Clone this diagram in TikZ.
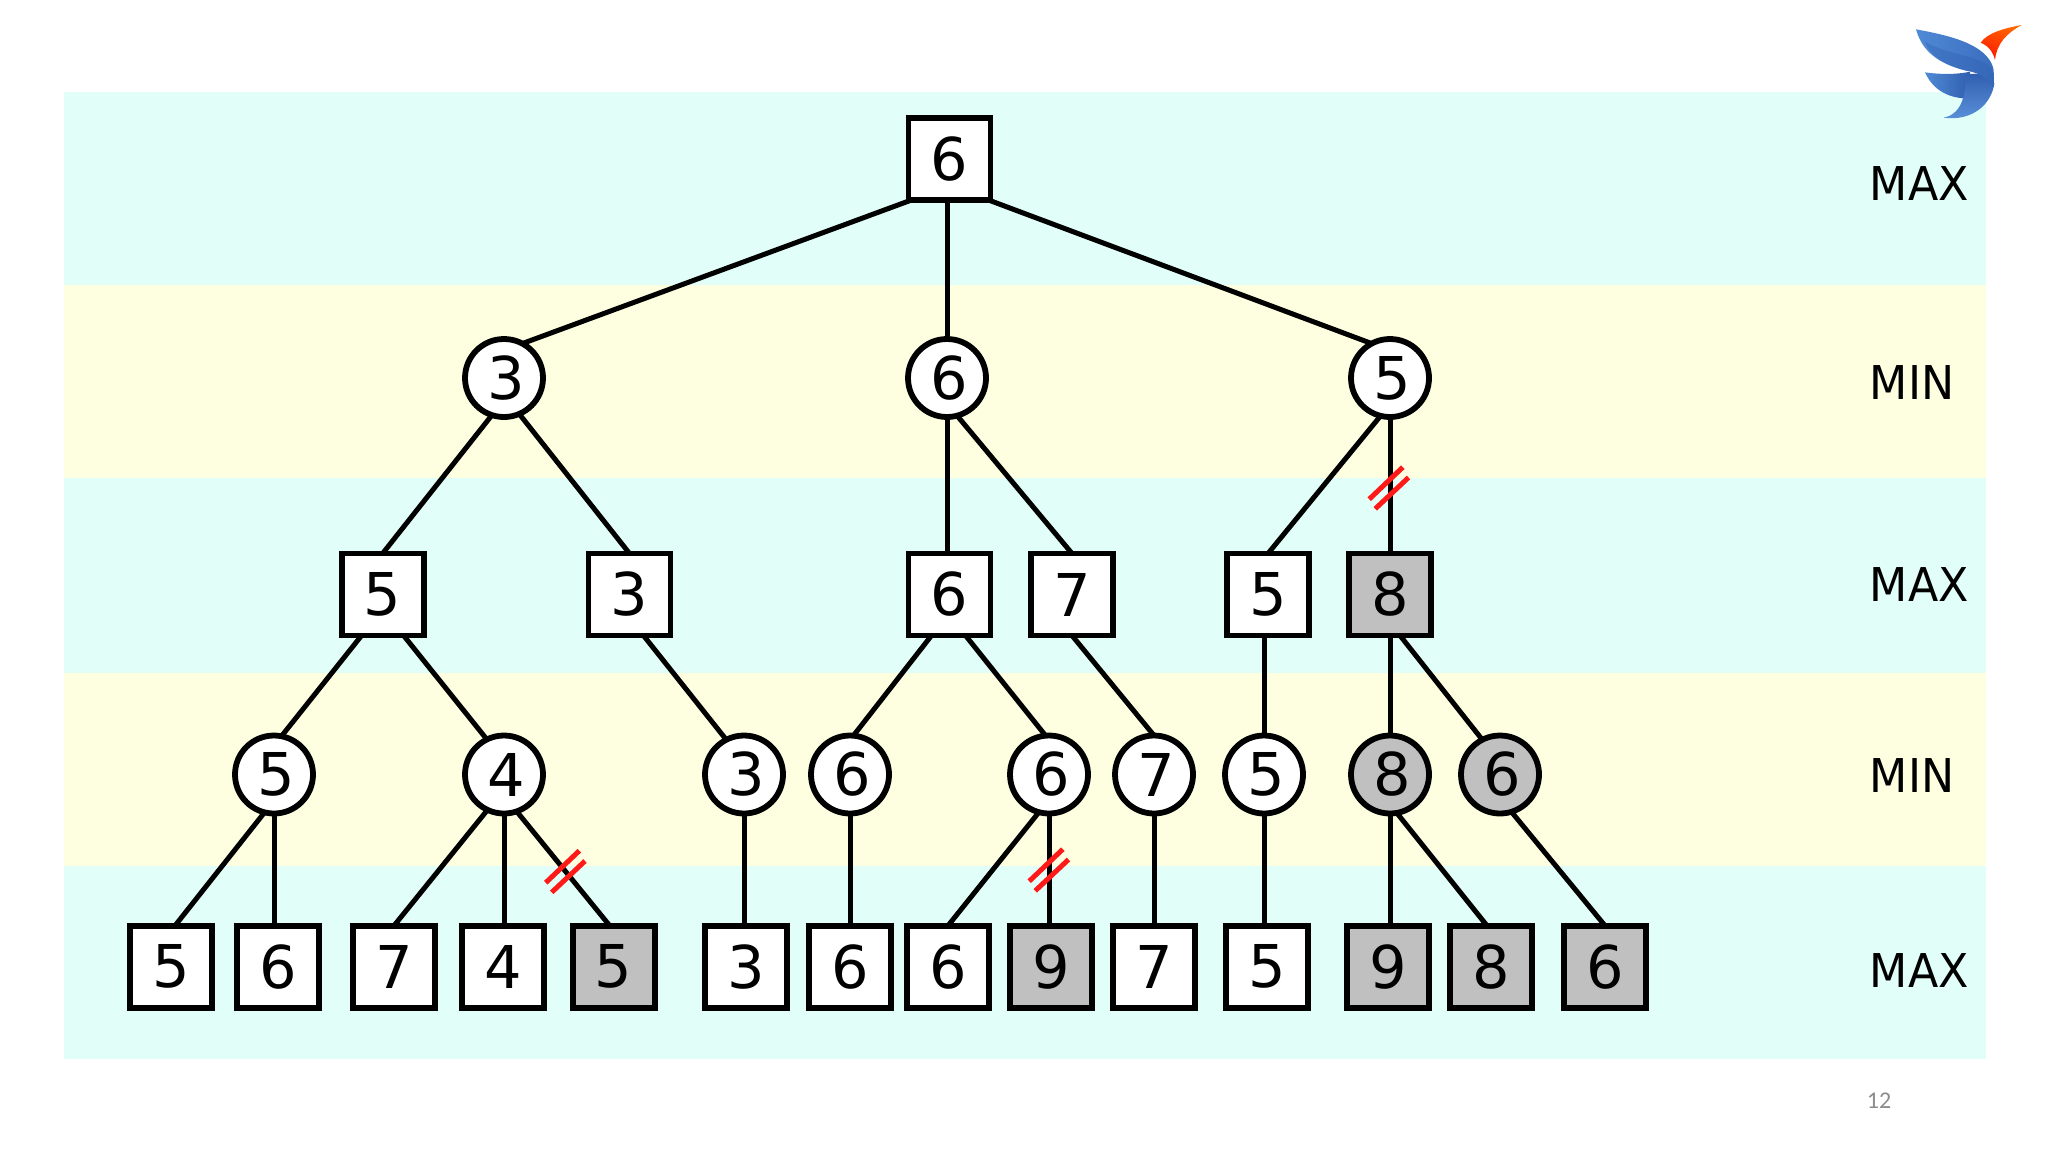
\documentclass[tikz,border=0pt]{standalone}
\usepackage{fontspec}
\setmainfont{DejaVu Sans}
\newfontfamily\lblfont[FakeStretch=0.95]{DejaVu Sans}
\newfontfamily\pgfont{Carlito}
\usetikzlibrary{calc}
\definecolor{bandc}{HTML}{E1FFF8}
\definecolor{bandy}{HTML}{FEFFE0}
\definecolor{pruned}{HTML}{C0C0C0}
\definecolor{cutred}{HTML}{FF1A1A}
\definecolor{logoA}{HTML}{4F8AD6}
\definecolor{logoB}{HTML}{3A6DBE}
\definecolor{logoC}{HTML}{2F5DAE}
\definecolor{logoD}{HTML}{5C93DC}
\tikzset{
 x=0.5pt,y=-0.5pt,
 sq/.style={draw=black,line width=2.9pt,fill=white,minimum size=41pt,inner sep=0pt,outer sep=0pt,font=\fontsize{29.5}{30}\selectfont,text=black},
 ci/.style={draw=black,line width=2.9pt,fill=white,circle,minimum size=39pt,inner sep=0pt,outer sep=0pt,font=\fontsize{29.5}{30}\selectfont,text=black,execute at begin node=\kern2pt},
 gr/.style={fill=pruned},
 edge/.style={draw=black,line width=2.5pt},
 cut/.style={draw=cutred,line width=2.5pt},
 lvl/.style={font=\lblfont\fontsize{23.3}{25}\selectfont,text=black,anchor=west,inner sep=0pt},
}
\newcommand{\cutmark}[1]{%
 \draw[cut] ($(#1)+(-19.8,11.2)$) -- ($(#1)+(13.8,-20.8)$);
 \draw[cut] ($(#1)+(-13.8,20.8)$) -- ($(#1)+(19.5,-10.5)$);}
\begin{document}
\begin{tikzpicture}
\useasboundingbox (0,0) rectangle (2048,1152);
\fill[white] (0,0) rectangle (2048,1152);
\fill[bandc] (64,91.5) rectangle (1986,285);
\fill[bandy] (64,285) rectangle (1986,478);
\fill[bandc] (64,478) rectangle (1986,672.5);
\fill[bandy] (64,672.5) rectangle (1986,866);
\fill[bandc] (64,866) rectangle (1986,1059);
% level 0
\node[sq] (r) at (949.5,159) {6};
% level 1
\node[ci] (a1) at (504,378) {3};
\node[ci] (a2) at (947,378) {6};
\node[ci] (a3) at (1390,378) {5};
% level 2
\node[sq] (b1) at (382.6,594.5) {5};
\node[sq] (b2) at (629.5,594.5) {3};
\node[sq] (b3) at (949.5,594.5) {6};
\node[sq] (b4) at (1072,594.5) {7};
\node[sq] (b5) at (1268,594.5) {5};
\node[sq,gr] (b6) at (1390,594.5) {8};
% level 3
\node[ci] (c1) at (274,774.5) {5};
\node[ci] (c2) at (504,774.5) {4};
\node[ci] (c3) at (744,774.5) {3};
\node[ci] (c4) at (850,774.5) {6};
\node[ci] (c5) at (1049,774.5) {6};
\node[ci] (c6) at (1154,774.5) {7};
\node[ci] (c7) at (1264,774.5) {5};
\node[ci,gr] (c8) at (1390,774.5) {8};
\node[ci,gr] (c9) at (1500,774.5) {6};
% level 4
\node[sq] (d1) at (171,966.7) {5};
\node[sq] (d2) at (278,966.7) {6};
\node[sq] (d3) at (394,966.7) {7};
\node[sq] (d4) at (503,966.7) {4};
\node[sq,gr] (d5) at (613.7,966.7) {5};
\node[sq] (d6) at (746,966.7) {3};
\node[sq] (d7) at (850,966.7) {6};
\node[sq] (d8) at (948,966.7) {6};
\node[sq,gr] (d9) at (1051,966.7) {9};
\node[sq] (d10) at (1154,966.7) {7};
\node[sq] (d11) at (1267,966.7) {5};
\node[sq,gr] (d12) at (1388,966.7) {9};
\node[sq,gr] (d13) at (1491,966.7) {8};
\node[sq,gr] (d14) at (1605,966.7) {6};
% edges
\draw[edge] ($(r.south)+(-38,0)$) -- (a1.62);
\draw[edge] (a2.north) -- (a2.north |- r.south);
\draw[edge] ($(r.south)+(39,0)$) -- (a3.118);
\draw[edge] (a1.-108) -- (b1.north);
\draw[edge] (a1.-67) -- (b2.north);
\draw[edge] (a2.south) -- (a2.south |- b3.north);
\draw[edge] (a2.-75) -- (b4.north);
\draw[edge] (a3.-104) -- (b5.north);
\draw[edge] (a3.south) -- (b6.north);
\draw[edge] ($(b1.south)+(-21,0)$) -- (c1.79);
\draw[edge] ($(b1.south)+(21,0)$) -- (c2.116);
\draw[edge] ($(b2.south)+(14,0)$) -- (c3.117);
\draw[edge] ($(b3.south)+(-18,0)$) -- (c4.85);
\draw[edge] ($(b3.south)+(16,0)$) -- (c5.95);
\draw[edge] (b4.south) -- (c6.north);
\draw[edge] (c7.north) -- (c7.north |- b5.south);
\draw[edge] (b6.south) -- (c8.north);
\draw[edge] ($(b6.south)+(10,0)$) -- (c9.117);
\draw[edge] (c1.-104) -- ($(d1.north)+(4,0)$);
\draw[edge] (c1.south) -- (c1.south |- d2.north);
\draw[edge] (c2.-115) -- (d3.north);
\draw[edge] (c2.south) -- (c2.south |- d4.north);
\draw[edge] (c2.-71) -- ($(d5.north)+(-4,0)$);
\draw[edge] (c3.south) -- (c3.south |- d6.north);
\draw[edge] (c4.south) -- (d7.north);
\draw[edge] (c5.-105) -- (d8.north);
\draw[edge] (c5.south) -- (c5.south |- d9.north);
\draw[edge] (c6.south) -- (d10.north);
\draw[edge] (c7.south) -- (c7.south |- d11.north);
\draw[edge] (c8.south) -- (c8.south |- d12.north);
\draw[edge] (c8.-80) -- ($(d13.north)+(-4,0)$);
\draw[edge] (c9.-73) -- (d14.north);
% pruning marks
\coordinate (m1) at (565.5,871.5);
\coordinate (m2) at (1049,870);
\coordinate (m3) at (1389,488);
\cutmark{m1}\cutmark{m2}\cutmark{m3}
% labels
\node[lvl] (l1) at (1869.5,184) {MAX};
\node[lvl] (l2) at (1869.5,383) {MIN};
\node[lvl] (l3) at (1869.5,585) {MAX};
\node[lvl] (l4) at (1869.5,775) {MIN};
\node[lvl] (l5) at (1869.5,970) {MAX};
\node[font=\pgfont\fontsize{12}{14}\selectfont,text=black!45] (pg) at (1879,1101) {12};
% logo
\begin{scope}[shift={(1880,0)},x=0.16667pt,y=-0.16667pt]
\shade[top color=orange!80!red,bottom color=red!80!orange,shading angle=-20]
 (425,75) .. controls (370,85) and (320,100) .. (302,128)
 .. controls (330,140) and (340,160) .. (345,180)
 .. controls (350,130) and (380,100) .. (425,75) -- cycle;
\shade[left color=logoA,right color=logoC]
 (135,217) .. controls (190,225) and (240,222) .. (270,215)
 -- (275,295) .. controls (230,298) and (165,285) .. (135,217) -- cycle;
\shade[top color=logoC,bottom color=logoD]
 (255,225) .. controls (300,215) and (330,225) .. (343,250)
 .. controls (335,310) and (280,365) .. (190,353)
 .. controls (240,345) and (260,290) .. (255,225) -- cycle;
\shade[left color=logoA,right color=logoB]
 (108,88) .. controls (200,105) and (320,130) .. (340,205)
 .. controls (342,225) and (343,240) .. (340,262)
 .. controls (320,225) and (280,215) .. (258,212)
 .. controls (170,190) and (125,150) .. (108,88) -- cycle;
\fill[logoC,opacity=0.35]
 (135,125) .. controls (200,165) and (300,165) .. (335,205)
 .. controls (342,225) and (343,240) .. (340,262)
 .. controls (320,225) and (280,215) .. (258,212)
 .. controls (190,195) and (150,165) .. (135,125) -- cycle;
\end{scope}
\end{tikzpicture}
\end{document}
